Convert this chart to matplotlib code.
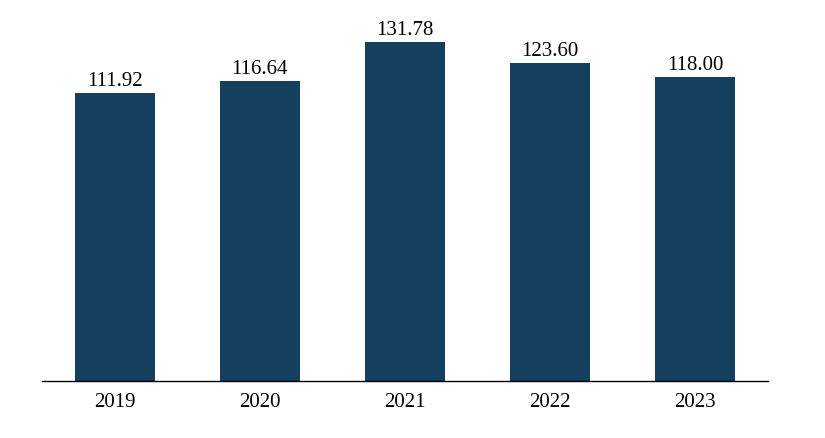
import matplotlib
matplotlib.use("Agg")
import matplotlib.pyplot as plt

years = ["2019", "2020", "2021", "2022", "2023"]
values = [111.92, 116.64, 131.78, 123.60, 118.00]

plt.rcParams['font.family'] = ['Liberation Serif', 'DejaVu Serif']
fig = plt.figure(figsize=(8.25, 4.39), dpi=100)
ax = fig.add_axes([42/825, (439-382)/439, 726/825, 382/439])
x = range(len(years))
bars = ax.bar(x, values, width=0.55, color="#153F5F")
for xi, v in zip(x, values):
    ax.text(xi, v + 1.2, f"{v:.2f}", ha="center", va="bottom", fontsize=15)
ax.set_xlim(-0.5, 4.5)
ax.set_ylim(0, 148.5)
ax.set_xticks(list(x))
ax.set_xticklabels(years, fontsize=15)
ax.tick_params(axis='x', length=0, pad=8)
ax.set_yticks([])
for s in ["top", "right", "left"]:
    ax.spines[s].set_visible(False)
ax.spines["bottom"].set_linewidth(1.0)
fig.savefig("out.png", dpi=100)
